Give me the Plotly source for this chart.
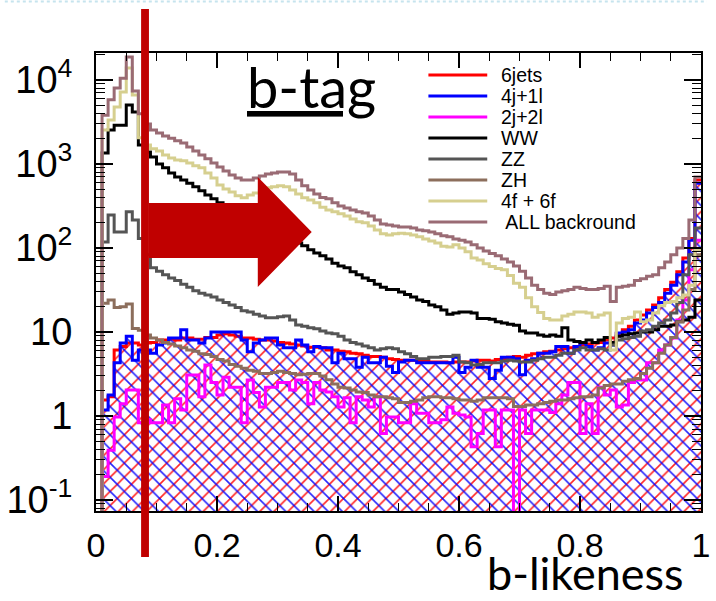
import plotly.graph_objects as go

# ---------------------------------------------------------------------------
# b-likeness distributions, 100 bins on [0, 1] (events per bin)
# ---------------------------------------------------------------------------
bin_edges = [round(i * 0.01, 2) for i in range(101)]

six_jets = [
    0, 1.55, 1.7, 6.1, 6.7, 7.4, 7.4, 7, 7.4, 7.5,
    8, 8, 8.2, 8, 8.5, 8.5, 8.2, 8.2, 8.6, 8.6,
    9.2, 9.5, 9.2, 8.9, 8.5, 8.5, 8.2, 8, 8, 7.8,
    7.5, 7.4, 7.2, 7, 6.8, 6.6, 6.6, 6.5, 6.1, 6.1,
    5.9, 5.8, 5.6, 5.5, 5.3, 5.1, 5.1, 5, 4.8, 4.7,
    4.6, 4.6, 4.6, 4.5, 4.5, 4.4, 4.4, 4.4, 4.3, 4.4,
    4.4, 4.4, 4.5, 4.6, 4.6, 4.5, 4.7, 4.8, 5, 5.1,
    5, 5.3, 5.5, 5.6, 5.8, 5.9, 6.1, 6.3, 6.5, 6.6,
    7, 7.2, 7.4, 7.5, 8, 8.5, 9.5, 10.6, 11.7, 13.9,
    15.9, 18.3, 21, 25.5, 32, 39, 52, 76, 130, 645,
]

four_j_one_l = [
    0, 1.18, 1.78, 4.3, 7.4, 8.9, 4.6, 6.1, 6.1, 5.6,
    7, 7.4, 8.5, 8.5, 10.6, 8, 8, 7.4, 8.5, 10,
    10, 10, 10, 10, 8, 5.8, 7.4, 8, 8.5, 8.5,
    7, 6.5, 6.5, 8, 7, 5.8, 6.7, 6.5, 6.5, 4.3,
    5.6, 4.8, 4.8, 3.8, 5, 4.3, 4.3, 5, 3.9, 3.3,
    4.4, 4.6, 4.6, 4.3, 4.3, 4.3, 4.3, 4.3, 4.3, 5,
    3.3, 3.8, 4.6, 3.8, 3.8, 2.8, 3.5, 5, 5, 4.8,
    3.1, 4.6, 4.8, 5.6, 5.6, 5.8, 6.7, 6.7, 5.6, 6.7,
    7.4, 6.7, 6.1, 6.5, 7.4, 7, 9.7, 10, 10.6, 12.8,
    13.9, 16.8, 19.5, 22.4, 29, 36, 48, 68, 124, 590,
]

two_j_two_l = [
    0, 0.19, 0.39, 0.97, 1.4, 2.04, 2.04, 0.83, 0.9, 0.83,
    0.83, 1.35, 0.83, 1.6, 1.18, 3.08, 3.08, 1.7, 4.05, 2.5,
    1.78, 2.9, 2.2, 2.2, 0.83, 2.68, 1.9, 1.28, 2.2, 2.2,
    2.5, 2.5, 2.04, 2.68, 2.5, 1.4, 2.5, 2.04, 1.93, 1.7,
    1.28, 1.65, 0.83, 1.7, 1.55, 1.28, 1.7, 0.62, 0.97, 0.97,
    0.83, 0.83, 1.4, 1.08, 1.08, 0.83, 0.83, 0.9, 1.28, 1.08,
    1.03, 0.97, 0.43, 0.62, 1.18, 1.18, 0.43, 1.18, 1.18, 0,
    1.18, 0.62, 1.18, 1.18, 1.18, 1.1, 1.4, 1.78, 2.5, 2.5,
    0.62, 1.4, 0.62, 2.2, 1.78, 2.04, 1.28, 1.35, 2.5, 2.68,
    2.68, 4.3, 4.3, 6.1, 7, 8.5, 13.9, 24, 55, 124,
]

ww = [
    0, 1350, 2540, 2900, 2900, 5040, 4160, 1680, 1390, 1210,
    1000, 900, 780, 700, 645, 590, 535, 480, 427, 385,
    345, 315, 283, 260, 240, 222, 205, 188, 173, 160,
    148, 136, 124, 115, 106, 95, 87, 81, 74, 66,
    61, 58, 52, 48, 44, 41, 37, 34, 32, 32,
    30, 28, 26, 24, 23, 21, 20, 18.3, 16.3, 16.8,
    17.3, 17.3, 16.8, 14.5, 14.5, 14.2, 13.2, 12.8, 12.4, 12,
    10.3, 9.7, 9.7, 9.2, 8.9, 9.2, 8.9, 11.2, 8, 7.7,
    7.5, 8, 7.5, 8, 8.6, 7.5, 8.9, 9.2, 9.5, 9.7,
    10, 10, 10.6, 11.7, 11.7, 12.1, 13.2, 13.9, 15, 24,
]

zz = [
    0, 118, 247, 155, 155, 270, 215, 130, 83, 58,
    53, 48, 44, 41, 37, 34, 31, 29, 27.6, 26,
    24, 22.4, 21, 19.5, 17.9, 17.3, 16.3, 15.5, 14.8, 14.8,
    15.2, 15.5, 13.9, 12.1, 11.7, 11.2, 10.9, 10.3, 9.7, 9.5,
    8.9, 8, 7.5, 7.2, 6.8, 6.5, 6.1, 6.3, 6.5, 6.3,
    5.8, 5.5, 5.1, 4.8, 4.8, 5, 5, 5.1, 5.1, 5.3,
    4.4, 4.3, 4.05, 4.1, 4.3, 4.3, 4.3, 4.5, 4.6, 4.5,
    4.4, 4.4, 4.6, 4.8, 5, 5, 5.3, 5.6, 5.6, 6.1,
    6.5, 6.1, 6.1, 6.3, 6.1, 7, 8, 8.3, 8.6, 8.9,
    10.3, 10.6, 11.7, 12.8, 13.9, 16.8, 22.4, 48, 83, 173,
]

zh = [
    0, 22, 24, 19.5, 20, 21.5, 11, 10.5, 9.2, 8.5,
    8, 7.5, 7.2, 6.8, 6.5, 6.1, 5.9, 5.5, 5.4, 5.1,
    4.7, 4.5, 4.1, 3.9, 3.7, 3.5, 3.4, 3.2, 3.2, 3.3,
    3.4, 3.3, 3.2, 3.1, 3.15, 3.2, 3.2, 3, 2.7, 2.4,
    2.2, 2.15, 2.04, 1.93, 1.9, 1.78, 1.7, 1.7, 1.65, 1.6,
    1.45, 1.45, 1.5, 1.55, 1.65, 1.7, 1.7, 1.65, 1.65, 1.6,
    1.55, 1.55, 1.5, 1.55, 1.65, 1.65, 1.65, 1.65, 1.6, 1.3,
    1.3, 1.35, 1.35, 1.4, 1.45, 1.5, 1.55, 1.55, 1.6, 1.65,
    1.7, 1.7, 1.78, 2.15, 2.3, 2.4, 2.4, 2.6, 2.7, 2.8,
    3.2, 3.7, 4.3, 5.6, 7, 8.6, 13.2, 18.3, 32, 83,
]

four_f_six_f = [
    0, 2540, 3340, 4770, 7200, 13900, 6630, 2050, 1680, 1520,
    1430, 1280, 1180, 1115, 1090, 1030, 950, 900, 780, 680,
    563, 505, 465, 418, 395, 427, 450, 480, 520, 535,
    550, 535, 490, 440, 395, 373, 345, 305, 283, 270,
    255, 240, 222, 205, 200, 183, 164, 148, 143, 148,
    150, 148, 143, 136, 128, 121, 115, 105, 103, 109,
    100, 90, 76, 72, 65, 60, 57, 55, 47, 38,
    34, 25.5, 20, 17, 14.5, 13.9, 13.9, 15.5, 16.3, 17.3,
    17.3, 16.8, 15, 15.9, 16.8, 6.1, 12.8, 14.5, 15, 17.3,
    13.2, 13.9, 16.8, 20.5, 22.5, 23, 25.5, 27.6, 36, 95,
]

all_background = [
    0, 3800, 5800, 8000, 10500, 18800, 7400, 3950, 3000, 2540,
    2330, 2150, 2030, 1890, 1780, 1590, 1430, 1280, 1150, 1030,
    920, 825, 740, 680, 645, 645, 680, 720, 760, 780,
    800, 800, 760, 645, 550, 490, 440, 400, 385, 345,
    315, 300, 283, 270, 260, 240, 215, 193, 188, 183,
    178, 178, 173, 164, 160, 155, 148, 140, 136, 128,
    124, 118, 109, 100, 92, 86, 81, 74, 68, 61,
    53, 44, 36, 32, 29, 28, 30, 31, 32, 34,
    33, 32, 32, 33, 35, 23, 34, 35, 36, 41,
    43, 46, 48, 58, 68, 83, 100, 130, 215, 700,
]

legend_names = ["6jets", "4j+1l", "2j+2l", "WW", "ZZ", "ZH", "4f + 6f", " ALL backround"]
series = [six_jets, four_j_one_l, two_j_two_l, ww, zz, zh, four_f_six_f, all_background]
colors = ["#ff0000", "#0000ff", "#ff00ff", "#000000", "#555555",
          "#8c6e5c", "#d6cf8f", "#9a6b74"]

x_tick_vals = [0, 0.2, 0.4, 0.6, 0.8, 1]
x_tick_text = ["0", "0.2", "0.4", "0.6", "0.8", "1"]
y_tick_vals = [0.1, 1, 10, 100, 1000, 10000]
y_tick_text = ["10<sup>-1</sup>", "1", "10", "10<sup>2</sup>", "10<sup>3</sup>", "10<sup>4</sup>"]

# ---------------------------------------------------------------------------
# geometry (pixels of the 716x601 canvas)
# ---------------------------------------------------------------------------
W, H = 716, 601
PL, PR, PT, PB = 93, 710, 53, 511          # plot frame
FLOOR = 1e-3                               # empty bins drop below the log axis
LINE_W = 3


def px(x):
    return (x - PL) / (PR - PL)


def py(y):
    return (PB - y) / (PB - PT)


def step_y(vals):
    ys = [v if v > 0 else FLOOR for v in vals]
    return ys + [ys[-1]]


fig = go.Figure()

hatch = {0: "/", 1: "\\"}
for i, (vals, col) in enumerate(zip(series, colors)):
    if i in hatch:
        # invisible baseline so the hatched area reaches the bottom of the frame
        fig.add_trace(go.Scatter(
            x=bin_edges, y=[FLOOR] * len(bin_edges), mode="lines",
            line=dict(width=0, shape="hv"), hoverinfo="skip", showlegend=False))
        fig.add_trace(go.Scatter(
            x=bin_edges, y=step_y(vals), mode="lines",
            line=dict(color=col, width=LINE_W, shape="hv"),
            fill="tonexty", fillcolor="rgba(0,0,0,0)",
            fillpattern=dict(shape=hatch[i], fgcolor=col, bgcolor="rgba(0,0,0,0)",
                             fgopacity=0.85, size=10, solidity=0.16),
            hoverinfo="skip", showlegend=False))
    else:
        fig.add_trace(go.Scatter(
            x=bin_edges, y=step_y(vals), mode="lines",
            line=dict(color=col, width=LINE_W, shape="hv"),
            hoverinfo="skip", showlegend=False))

# ---------------------------------------------------------------------------
# decorations: legend, labels, cut marker and arrow
# ---------------------------------------------------------------------------
shapes = []
annotations = []

leg_y0, leg_dy = 75, 21
for k, (name, col) in enumerate(zip(legend_names, colors)):
    yy = leg_y0 + k * leg_dy
    shapes.append(dict(type="line", xref="paper", yref="paper",
                       x0=px(432), x1=px(492), y0=py(yy), y1=py(yy),
                       line=dict(color=col, width=LINE_W), layer="above"))
    annotations.append(dict(xref="paper", yref="paper", x=px(504), y=py(yy),
                            xanchor="left", yanchor="middle", showarrow=False,
                            text=name, font=dict(family="Liberation Sans", size=19.5,
                                                 color="#000000")))

# cut position marker
shapes.append(dict(type="rect", xref="paper", yref="paper",
                   x0=px(139), x1=px(147), y0=py(557), y1=py(9),
                   fillcolor="#c00000", line=dict(width=0), layer="above"))

# arrow pointing to the accepted region
arrow_pts = [(147, 203), (258, 203), (258, 177), (313, 232),
             (258, 287), (258, 258), (147, 258)]
path = "M " + " L ".join(f"{px(a):.5f},{py(b):.5f}" for a, b in arrow_pts) + " Z"
shapes.append(dict(type="path", xref="paper", yref="paper", path=path,
                   fillcolor="#c00000", line=dict(width=0), layer="above"))

# faint slide border at the very top
shapes.append(dict(type="line", xref="paper", yref="paper",
                   x0=px(0), x1=px(W), y0=py(1.5), y1=py(1.5),
                   line=dict(color="#c6e4ee", width=2, dash="dot"), layer="above"))

annotations.append(dict(xref="paper", yref="paper", x=px(313), y=py(86),
                        xanchor="center", yanchor="middle", showarrow=False,
                        text="<u>b-tag</u>",
                        font=dict(family="Lato", size=56, color="#000000")))
annotations.append(dict(xref="paper", yref="paper", x=px(592), y=py(573),
                        xanchor="center", yanchor="middle", showarrow=False,
                        text="b-likeness",
                        font=dict(family="Lato", size=45, color="#000000")))

x_minor = [round(0.05 * k, 2) for k in range(21) if k % 4 != 0]
y_minor = [m * 10 ** e for e in range(-2, 5) for m in range(2, 10)]

fig.update_layout(
    width=W, height=H, autosize=False,
    margin=dict(l=PL, r=W - PR, t=PT, b=H - PB, pad=0),
    paper_bgcolor="#ffffff", plot_bgcolor="#ffffff",
    shapes=shapes, annotations=annotations,
    xaxis=dict(
        range=[0, 1], showgrid=False, zeroline=False,
        showline=True, linecolor="#000000", linewidth=2, mirror="allticks",
        ticks="inside", ticklen=15, tickwidth=1.5, tickcolor="#000000",
        tickmode="array", tickvals=x_tick_vals, ticktext=x_tick_text,
        tickfont=dict(family="Liberation Sans", size=34, color="#000000"),
        ticklabelstandoff=3, ticklabeloverflow="allow",
        minor=dict(tickmode="array", tickvals=x_minor, ticks="inside",
                   ticklen=8, tickwidth=1.2, tickcolor="#000000", showgrid=False),
    ),
    yaxis=dict(
        type="log", range=[-1.131, 4.321], showgrid=False, zeroline=False,
        showline=True, linecolor="#000000", linewidth=2, mirror="allticks",
        ticks="inside", ticklen=17, tickwidth=1.5, tickcolor="#000000",
        tickmode="array", tickvals=y_tick_vals, ticktext=y_tick_text,
        tickfont=dict(family="Liberation Sans", size=38, color="#000000"),
        ticklabelstandoff=14,
        minor=dict(tickmode="array", tickvals=y_minor, ticks="inside",
                   ticklen=9, tickwidth=1.2, tickcolor="#000000", showgrid=False),
    ),
)

fig.write_html("out.html")
